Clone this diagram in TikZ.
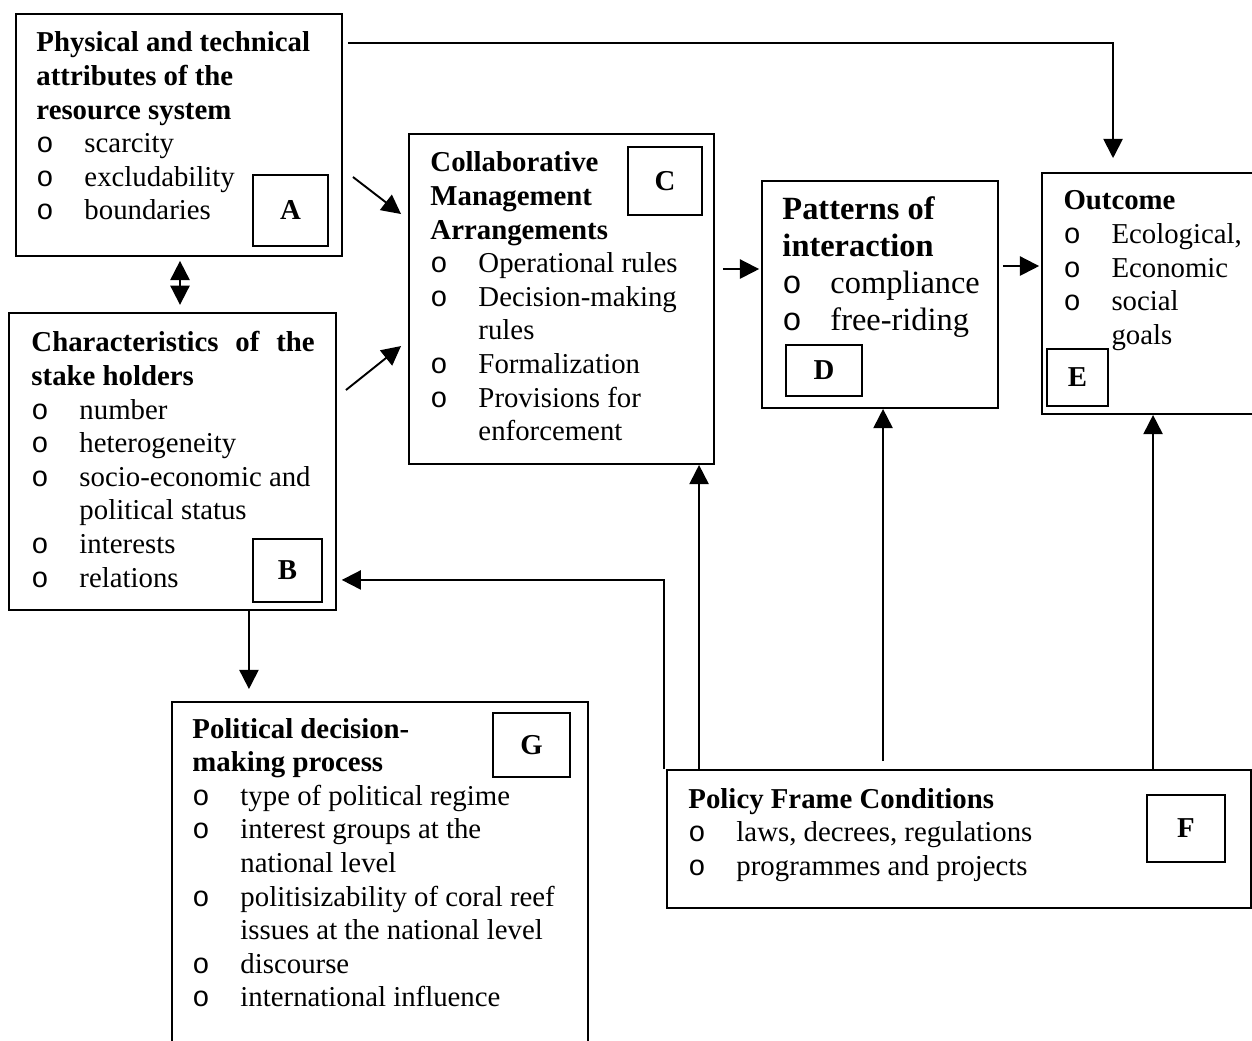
\documentclass[tikz,border=0pt]{standalone}
\usepackage{fontspec}
\setmainfont{Liberation Serif}
\newfontfamily\bulfont{Liberation Mono}
\usetikzlibrary{arrows.meta,calc,fit}

% list helpers: heading line, bulleted line, continuation line
\newcommand\hl[1]{\hbox{\bfseries #1}}
\newcommand\bl[1]{\hbox{\makebox[20pt][l]{\bulfont o}#1}}
\newcommand\cl[1]{\hbox{\hspace{20pt}#1}}
\newcommand\stk[2][14pt]{\vtop{\baselineskip=#1\lineskiplimit=-\maxdimen #2}}

\begin{document}
\begin{tikzpicture}[x=0.41667pt,y=-0.41667pt,
  box/.style={draw, line width=0.8pt, inner sep=0pt},
  tag/.style={draw, line width=0.8pt, inner sep=0pt, font=\fontsize{12}{14}\selectfont\bfseries},
  txt/.style={anchor=base west, inner sep=0pt, font=\fontsize{12}{14}\selectfont},
  arr/.style={line width=0.8pt, -{Triangle[length=8pt,width=8pt]}},
  dbl/.style={line width=0.8pt, {Triangle[length=8pt,width=8pt]}-{Triangle[length=8pt,width=8pt]}},
]
\useasboundingbox (0,0) rectangle (1252,1041);
\fill[white] (0,0) rectangle (1252,1041);

% boxes
\node[box, fit={(16,14)(342,256)}] (A) {};
\node[box, fit={(9,313)(336,610)}] (B) {};
\node[box, fit={(409,134)(714,464)}] (C) {};
\node[box, fit={(762,181)(998,408)}] (D) {};
\node[box, fit={(1042,173)(1262,414)}] (E) {};
\node[box, fit={(667,770)(1251,908)}] (F) {};
\node[box, fit={(172,702)(588,1060)}] (G) {};

% letter tags
\node[tag, minimum width=31.25pt, minimum height=29.6pt] (tA) at (290.5,210.5) {A};
\node[tag, minimum width=28.75pt, minimum height=26.25pt] (tB) at (287.5,570.5) {B};
\node[tag, minimum width=30.8pt, minimum height=28.3pt] (tC) at (665,181) {C};
\node[tag, minimum width=31.7pt, minimum height=21.25pt] (tD) at (824,370.5) {D};
\node[tag, minimum width=25.4pt, minimum height=23.75pt] (tE) at (1077.5,377.5) {E};
\node[tag, minimum width=32.5pt, minimum height=27.9pt] (tF) at (1186,828.5) {F};
\node[tag, minimum width=32.1pt, minimum height=26.7pt] (tG) at (531.5,745) {G};

% box texts
\node[txt] (xA) at (36,52) {\stk{\hl{Physical and technical}\hl{attributes of the}\hl{resource system}%
  \bl{scarcity}\bl{excludability}\bl{boundaries}}};
\node[txt] (xB) at (31,352) {\stk{\hbox to 118pt{\bfseries Characteristics\hfill of\hfill the}\hl{stake holders}%
  \bl{number}\bl{heterogeneity}\bl{socio-economic and}\cl{political status}\bl{interests}\bl{relations}}};
\node[txt] (xC) at (430,172) {\stk{\hl{Collaborative}\hl{Management}\hl{Arrangements}%
  \bl{Operational rules}\bl{Decision-making}\cl{rules}\bl{Formalization}\bl{Provisions for}\cl{enforcement}}};
\node[txt, font=\fontsize{13.5}{15.3}\selectfont] (xD) at (782,220) {\stk[15.3pt]{\hl{Patterns of}\hl{interaction}%
  \bl{compliance}\bl{free-riding}}};
\node[txt] (xE) at (1063,210) {\stk{\hl{Outcome}\bl{Ecological,}\bl{Economic}\bl{social}\cl{goals}}};
\node[txt] (xF) at (688,808) {\stk{\hl{Policy Frame Conditions}\bl{laws, decrees, regulations}\bl{programmes and projects}}};
\node[txt] (xG) at (192,738) {\stk{\hl{Political decision-}\hl{making process}%
  \bl{type of political regime}\bl{interest groups at the}\cl{national level}%
  \bl{politisizability of coral reef}\cl{issues at the national level}\bl{discourse}\bl{international influence}}};

% connector end points
\coordinate (ae) at ($(A.north east)+(5,30)$);
\coordinate (et) at ($(E.north west)+(72,0)$);
\coordinate (ab) at ($(A.south)+(1,2)$);
\coordinate (ac) at ($(A.east)+(10,42)$);
\coordinate (ca) at ($(C.north west)+(-7,81)$);
\coordinate (bc) at ($(B.north east)+(9,78)$);
\coordinate (cb) at ($(C.north west)+(-7,213)$);
\coordinate (cd) at ($(C.north east)+(8,136)$);
\coordinate (de) at ($(D.north east)+(4,86)$);
\coordinate (bg) at ($(B.south east)+(-88,0)$);
\coordinate (fc) at ($(F.north west)+(33,0)$);
\coordinate (fd) at ($(F.north west)+(217,-8)$);
\coordinate (fe) at ($(F.north west)+(487,0)$);
\coordinate (fb) at ($(F.north west)+(-2,0)$);
\coordinate (bf) at ($(B.south east)+(0,-31)$);

% connectors
\draw[arr, shorten >=5.8pt] (ae) -| (et);
\draw[dbl, shorten <=0.8pt, shorten >=3pt] (ab) -- (ab |- B.north);
\draw[arr] (ac) -- (ca);
\draw[arr] (bc) -- (cb);
\draw[arr, shorten >=0.8pt] (cd) -- (cd -| D.west);
\draw[arr, shorten >=0.8pt] (de) -- (de -| E.west);
\draw[arr, shorten >=5pt] (bg) -- (bg |- G.north);
\draw[arr] (fc) -- (fc |- C.south);
\draw[arr] (fd) -- (fd |- D.south);
\draw[arr] (fe) -- (fe |- E.south);
\draw[arr, shorten >=2pt] (fb) |- (bf);
\end{tikzpicture}
\end{document}
